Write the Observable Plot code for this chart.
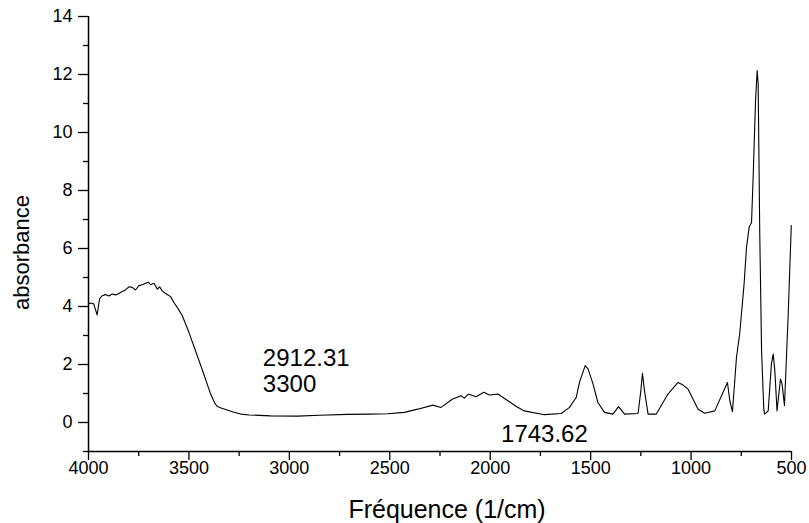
<!DOCTYPE html>
<html>
<head>
<meta charset="utf-8">
<script src="https://cdn.jsdelivr.net/npm/d3@7"></script>
<script src="https://cdn.jsdelivr.net/npm/@observablehq/plot@0.6"></script>
<style>
  html, body { margin: 0; padding: 0; background: white; }
</style>
</head>
<body>
<div id="chart"></div>
<script>
// Spectrum (wavenumber in 1/cm, absorbance)
const wavenumber = [
  4000, 3990, 3974, 3957, 3945, 3932, 3915, 3899, 3882, 3865, 3849, 3832, 3816, 3799,
  3782, 3766, 3749, 3732, 3716, 3702, 3691, 3674, 3657, 3646, 3633, 3616, 3591, 3575,
  3558, 3533, 3500, 3466, 3430, 3392, 3370, 3358, 3340, 3317, 3280, 3242, 3200, 3093,
  2959, 2850, 2710, 2600, 2511, 2428, 2361, 2286, 2245, 2187, 2145, 2129, 2109, 2070,
  2032, 2004, 1962, 1912, 1870, 1830, 1730, 1647, 1605, 1578, 1572, 1555, 1527, 1513,
  1489, 1464, 1431, 1389, 1361, 1331, 1264, 1250, 1242, 1232, 1214, 1173, 1115, 1065,
  1040, 1015, 965, 932, 882, 819, 807, 794, 774, 758, 736, 724, 711, 699, 691, 679,
  671, 666, 658, 649, 638, 634, 616, 600, 591, 583, 572, 555, 547, 535, 517, 501
];
const absorbance = [
  4.09, 4.12, 4.09, 3.71, 4.26, 4.37, 4.41, 4.36, 4.43, 4.40, 4.45, 4.52, 4.57, 4.68,
  4.66, 4.57, 4.72, 4.75, 4.80, 4.84, 4.75, 4.80, 4.60, 4.68, 4.54, 4.45, 4.34, 4.14,
  3.97, 3.68, 3.11, 2.45, 1.75, 0.98, 0.65, 0.55, 0.50, 0.45, 0.36, 0.29, 0.26, 0.23,
  0.22, 0.25, 0.28, 0.29, 0.30, 0.35, 0.46, 0.60, 0.52, 0.81, 0.92, 0.84, 0.98, 0.89,
  1.04, 0.95, 0.98, 0.75, 0.55, 0.40, 0.27, 0.31, 0.52, 0.80, 0.86, 1.40, 1.96, 1.85,
  1.35, 0.69, 0.35, 0.29, 0.55, 0.29, 0.31, 1.10, 1.70, 1.10, 0.29, 0.29, 0.98, 1.38,
  1.29, 1.15, 0.46, 0.32, 0.40, 1.38, 0.75, 0.37, 2.24, 3.05, 4.78, 6.04, 6.73, 6.90, 8.45, 11.10,
  12.14, 11.68, 6.50, 2.47, 0.46, 0.29, 0.40, 2.02, 2.36, 1.78, 0.40, 1.50, 1.33, 0.58, 3.62, 6.79
];

// Axis ticks
const xTicks = [4000, 3500, 3000, 2500, 2000, 1500, 1000, 500];
const xMinorTicks = [3750, 3250, 2750, 2250, 1750, 1250, 750];
const yTicks = [0, 2, 4, 6, 8, 10, 12, 14];
const yMinorTicks = [-1, 1, 3, 5, 7, 9, 11, 13];

// Peak annotations (text placed by its left edge)
const annotationText = ["2912.31", "3300", "1743.62"];
const annotationX = [3132, 3132, 1946];
const annotationY = [2.2, 1.32, -0.42];

// Axis titles
const xTitle = "Fréquence (1/cm)";
const yTitle = "absorbance";

const spectrum = wavenumber.map((w, i) => ({w, a: absorbance[i]}));
const annotations = annotationText.map((t, i) => ({t, x: annotationX[i], y: annotationY[i]}));

const font = "'Liberation Sans', Arial, Helvetica, sans-serif";

const chart = Plot.plot({
  width: 809,
  height: 523,
  marginLeft: 88,
  marginRight: 18,
  marginTop: 16,
  marginBottom: 72,
  x: {domain: [4000, 500]},
  y: {domain: [-1, 14]},
  style: {fontFamily: font, fontSize: "18px", background: "white", color: "black", overflow: "visible"},
  marks: [
    Plot.axisX({ticks: xMinorTicks, tickSize: 5, tickFormat: () => "", label: null, stroke: "black", strokeWidth: 1.3}),
    Plot.axisX({ticks: xTicks, tickSize: 9, tickPadding: 1, tickFormat: d => String(d), label: null, stroke: "black", strokeWidth: 1.3, fontSize: 18}),
    Plot.axisY({ticks: yMinorTicks, tickSize: 5, tickFormat: () => "", label: null, stroke: "black", strokeWidth: 1.3}),
    Plot.axisY({ticks: yTicks, tickSize: 10, tickPadding: 6, tickFormat: d => String(d), label: null, stroke: "black", strokeWidth: 1.3, fontSize: 18}),
    Plot.ruleX([4000], {stroke: "black", strokeWidth: 1.5}),
    Plot.ruleY([-1], {stroke: "black", strokeWidth: 1.5}),
    Plot.line(spectrum, {x: "w", y: "a", stroke: "black", strokeWidth: 1.1, curve: "linear"}),
    Plot.text(annotations, {x: "x", y: "y", text: "t", textAnchor: "start", fontSize: 24, fill: "black"}),
    Plot.text([xTitle], {x: 2215, y: -3.01, text: d => d, fontSize: 25, fill: "black", clip: false}),
    Plot.text([yTitle], {x: 4329, y: 5.86, text: d => d, rotate: -90, fontSize: 22, fill: "black", clip: false})
  ]
});
document.getElementById("chart").appendChild(chart);
</script>
</body>
</html>
